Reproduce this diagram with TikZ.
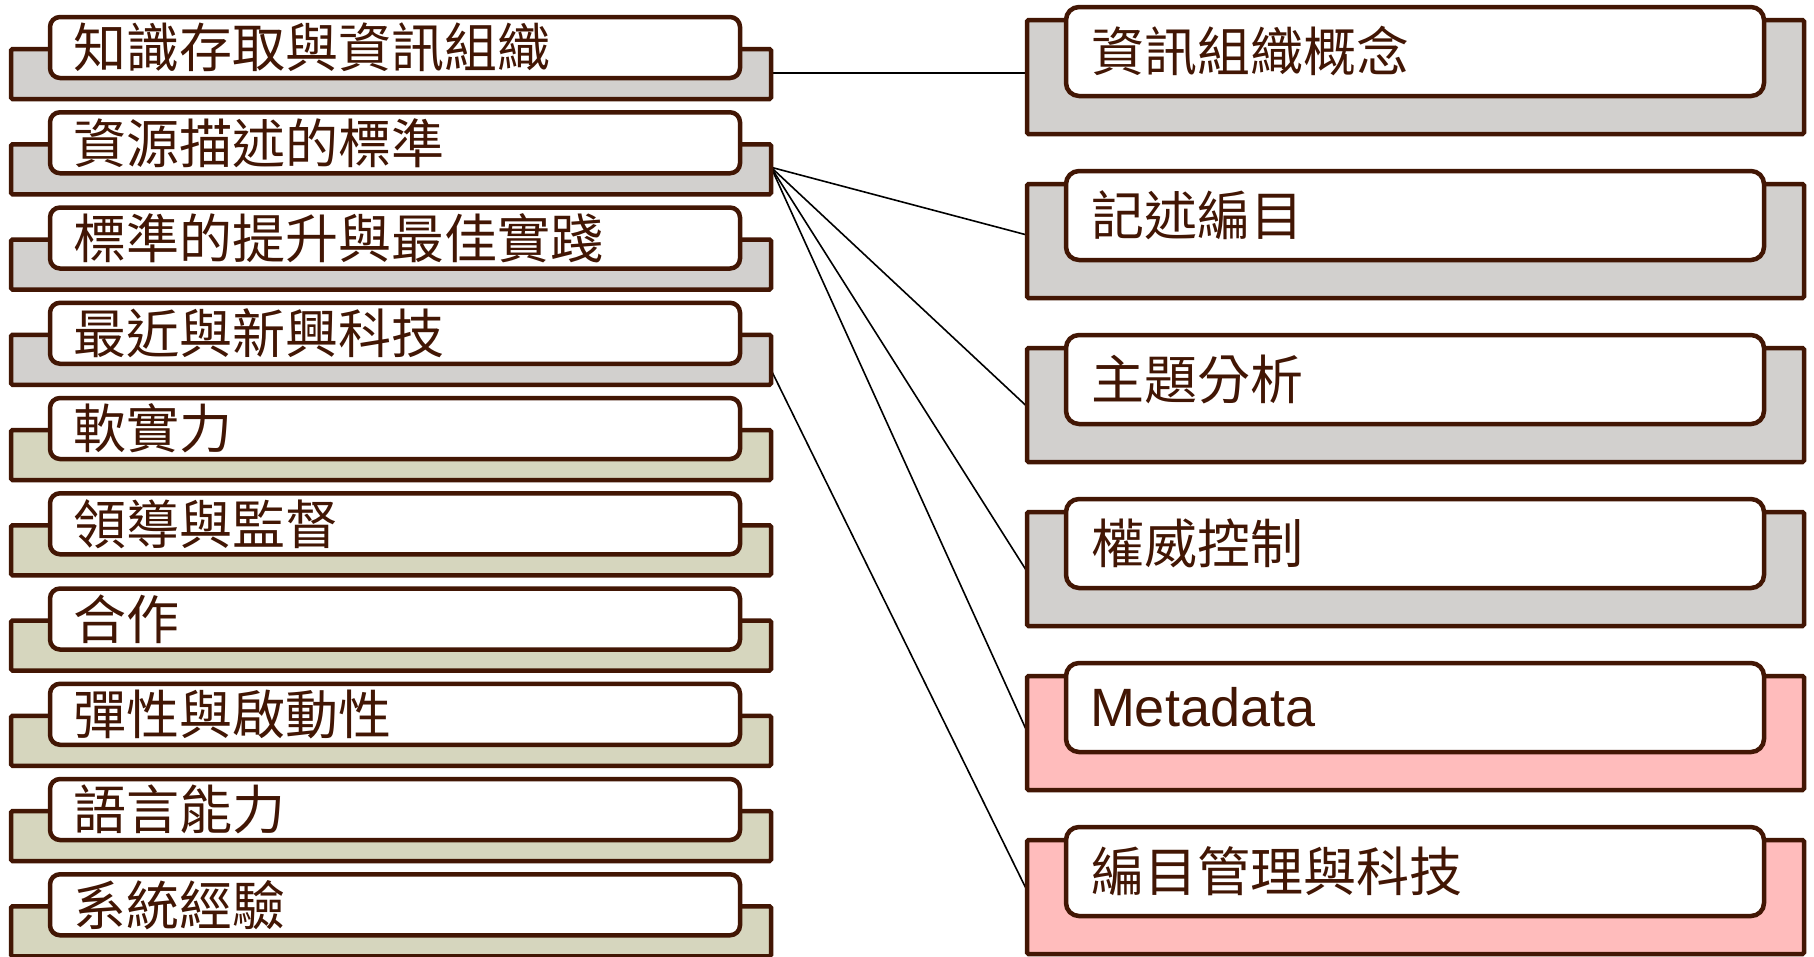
\documentclass[tikz,border=0pt]{standalone}
\usepackage{fontspec}
\newfontfamily\cjk{Noto Sans CJK TC}
\newfontfamily\lat{Liberation Sans}
\usetikzlibrary{calc}
\definecolor{bord}{RGB}{66,22,4}
\definecolor{gfill}{RGB}{210,208,206}
\definecolor{ofill}{RGB}{214,214,190}
\definecolor{pfill}{RGB}{255,188,188}
\pgfdeclarelayer{background}
\pgfsetlayers{background,main}
\begin{document}
\begin{tikzpicture}[x=1pt,y=-1pt,
  boxbase/.style={draw=bord, line width=4.5pt, inner sep=0pt, outer sep=0pt},
  lback/.style={boxbase, rounded corners=1.5pt, minimum width=760pt, minimum height=50pt},
  lfront/.style={boxbase, fill=white, rounded corners=10pt, minimum width=690pt, minimum height=61pt},
  rback/.style={boxbase, rounded corners=1.5pt, minimum width=777pt, minimum height=114pt},
  rfront/.style={boxbase, fill=white, rounded corners=13pt, minimum width=698pt, minimum height=89pt},
  lbl/.style={anchor=west, inner sep=0pt, outer sep=0pt, text=bord, font=\cjk\fontsize{53}{60}\selectfont},
  latlbl/.style={anchor=west, inner sep=0pt, outer sep=0pt, text=bord, font=\lat\fontsize{54}{60}\selectfont},
  link/.style={draw=black, line width=1.6pt}
]
\useasboundingbox (0,0) rectangle (1814,956);

% left column
\foreach \t/\c [count=\i from 1] in {知識存取與資訊組織/gfill, 資源描述的標準/gfill, 標準的提升與最佳實踐/gfill, 最近與新興科技/gfill, 軟實力/ofill, 領導與監督/ofill, 合作/ofill, 彈性與啟動性/ofill, 語言能力/ofill, 系統經驗/ofill}{
  \node[lback, fill=\c] (Lb\i) at (391, {74+95.25*(\i-1)}) {};
  \node[lfront] (Lf\i) at (395, {47.5+95.25*(\i-1)}) {};
  \node[lbl] (Lt\i) at (73, {47.5+95.25*(\i-1)}) {\t};
}

% right column
\foreach \c [count=\j from 1] in {gfill, gfill, gfill, gfill, pfill, pfill}{
  \node[rback, fill=\c] (Rb\j) at (1415.5, {77+164*(\j-1)}) {};
  \node[rfront] (Rf\j) at (1415, {51.5+164*(\j-1)}) {};
}
\node[lbl] (Rt1) at (1091, 51.5) {資訊組織概念};
\node[lbl] (Rt2) at (1091, 215.5) {記述編目};
\node[lbl] (Rt3) at (1091, 379.5) {主題分析};
\node[lbl] (Rt4) at (1091, 543.5) {權威控制};
\node[latlbl] (Rt5) at (1090, 707) {Metadata};
\node[lbl] (Rt6) at (1091, 871.5) {編目管理與科技};

% connectors
\begin{pgfonlayer}{background}
  \draw[link] ($(Lb1.east)+(0,-1)$) -- ($(Rb1.west)+(0,-4)$);
  \draw[link] ($(Lb2.east)+(0,-2)$) -- ($(Rb2.west)+(0,-6)$);
  \draw[link] ($(Lb2.east)+(0,-2)$) -- ($(Rb3.west)+(0,1.5)$);
  \draw[link] ($(Lb2.east)+(0,-2)$) -- ($(Rb4.west)+(0,2.5)$);
  \draw[link] ($(Lb2.east)+(0,-2)$) -- ($(Rb5.west)+(0,-1.5)$);
  \draw[link] ($(Lb4.east)+(0,10)$) -- ($(Rb6.west)+(0,-6.5)$);
\end{pgfonlayer}
\end{tikzpicture}
\end{document}
